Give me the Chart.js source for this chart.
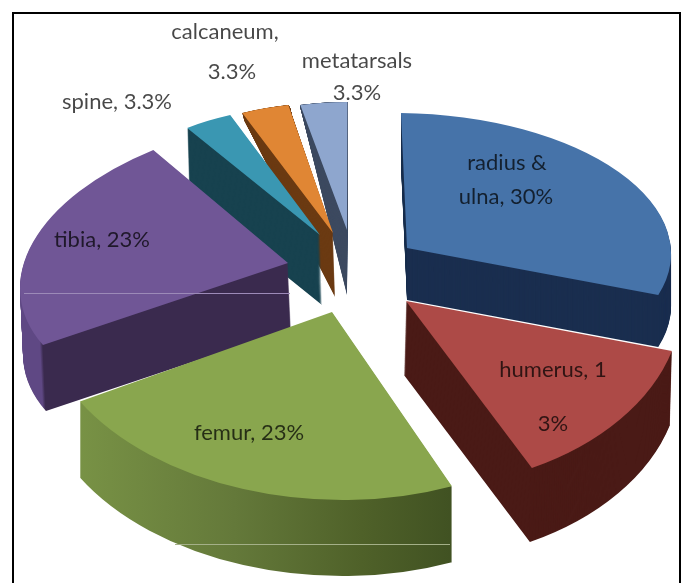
<!DOCTYPE html>
<html>
<head>
<meta charset="utf-8">
<title>Fracture sites</title>
<script src="https://cdn.jsdelivr.net/npm/chart.js@4"></script>
<style>
  html, body { margin: 0; background: #fff; overflow: hidden; }
  #frame { position: absolute; left: 12px; top: 12px; width: 665px; height: 700px; border: 2px solid #000; }
  #pie { position: absolute; left: 0; top: 0; }
</style>
</head>
<body>
<div id="frame"></div>
<canvas id="pie" width="684" height="583"></canvas>
<script>
// DATA

const categories = ["radius & ulna", "humerus", "femur", "tibia", "spine", "calcaneum", "metatarsals"];

const shares = [30, 13, 23, 23, 3.3, 3.3, 3.3];

const topColors = ["#4673a9", "#ad4a47", "#89a64e", "#705696", "#3a97b2", "#e08634", "#8ea6ce"];

// text as it wraps in the picture: [text, x, y]
const labelLines = [
    ["calcaneum,", 225, 32],
    ["3.3%", 232, 72],
    ["metatarsals", 357, 61],
    ["3.3%", 357, 93],
    ["spine, 3.3%", 117, 102],
    ["tibia, 23%", 102, 240],
    ["radius &", 507, 163],
    ["ulna, 30%", 506, 197],
    ["humerus, 1", 553, 370],
    ["3%", 553, 424],
    ["femur, 23%", 249, 433]
];


// FAKE 3D VIEW (each exploded slice has its own projection of the flat arc)

const view = [
    { at: [407, 248], m: [264, 2.75, 6, 135], depth: [0, 52], taper: 1, wall: [[0, "#1a2e4f"]] },
    { at: [406, 301], m: [275.5, -12.3, 17.6, 187.5], depth: [-2, 74], taper: 1, wall: [[0, "#4a1a16"]] },
    { at: [332, 312], m: [292.5, 4.3, 3.7, 188], depth: [0, 76], taper: 1,
      wall: [[0, "#7d9848"], [0.45, "#64793a"], [0.75, "#4f6129"], [1, "#3e4f21"]] },
    { at: [288, 263], m: [266.6, -10.2, -27.4, 147.3], depth: [3, 66], taper: 1,
      wall: [[0, "#5f4884"], [0.08, "#5f4884"], [0.09, "#3a2a4e"], [1, "#3a2a4e"]] },
    { at: [320, 235], m: [234.2, 3.4, -6.1, 129.9], depth: [2, 70], taper: 1, wall: [[0, "#17424f"]] },
    { at: [333, 233], m: [230.4, 2.4, -3.4, 130.4], depth: [2, 64], taper: 1.47, wall: [[0, "#6b3a12"]] },
    { at: [347, 230], m: [226.1, -0.8, -0.4, 128], depth: [0, 65], taper: 1.5, wall: [[0, "#3d4a60"]] }
];

// back to front
const drawOrder = [6, 5, 4, 3, 0, 1, 2];


function paintSlice(ctx, arc, v, t, fill) {
    const R = arc.outerRadius;
    const k = 1 + (v.taper - 1) * t;
    const keep = arc.options;
    arc.options = Object.assign({}, keep, { backgroundColor: fill });
    ctx.save();
    ctx.transform(v.m[0] / R, v.m[1] / R * k, v.m[2] / R, v.m[3] / R * k,
        v.at[0] + v.depth[0] * t, v.at[1] + v.depth[1] * t);
    ctx.translate(-arc.x, -arc.y);
    arc.draw(ctx);
    ctx.restore();
    arc.options = keep;
}

const fakeDepth = {
    id: "fakeDepth",
    beforeDatasetDraw(chart) {
        const ctx = chart.ctx;
        const arcs = chart.getDatasetMeta(0).data;
        drawOrder.forEach(function (i) {
            const arc = arcs[i];
            const v = view[i];
            const R = arc.outerRadius;
            let fill = v.wall[0][1];
            if (v.wall.length > 1) {
                fill = ctx.createLinearGradient(arc.x - R, 0, arc.x + R * 0.45, 0);
                v.wall.forEach(function (s) { fill.addColorStop(s[0], s[1]); });
            }
            const steps = Math.ceil(Math.abs(v.depth[1]));
            for (let s = steps; s > 0; s--) {
                paintSlice(ctx, arc, v, s / steps, fill);
            }
            paintSlice(ctx, arc, v, 0, topColors[i]);
        });

        // the two pale scan lines that run across the picture
        ctx.lineWidth = 1;
        ctx.strokeStyle = "#9c8ab8";
        ctx.beginPath();
        ctx.moveTo(24, 293.5);
        ctx.lineTo(290, 293.5);
        ctx.stroke();
        ctx.strokeStyle = "#a4b088";
        ctx.beginPath();
        ctx.moveTo(175, 544.5);
        ctx.lineTo(450, 544.5);
        ctx.stroke();

        ctx.font = "22px Lato";
        ctx.textAlign = "center";
        ctx.textBaseline = "middle";
        ctx.fillStyle = "rgba(0,0,0,0.72)";
        labelLines.forEach(function (l) {
            ctx.fillText(l[0], l[1], l[2]);
        });
        return false;
    }
};


new Chart(document.getElementById("pie"), {
    type: "pie",
    data: {
        labels: categories,
        datasets: [{
            data: shares,
            backgroundColor: topColors,
            borderWidth: 0
        }]
    },
    options: {
        responsive: false,
        animation: false,
        plugins: {
            legend: { display: false },
            tooltip: { enabled: false }
        }
    },
    plugins: [fakeDepth]
});
</script>
</body>
</html>
